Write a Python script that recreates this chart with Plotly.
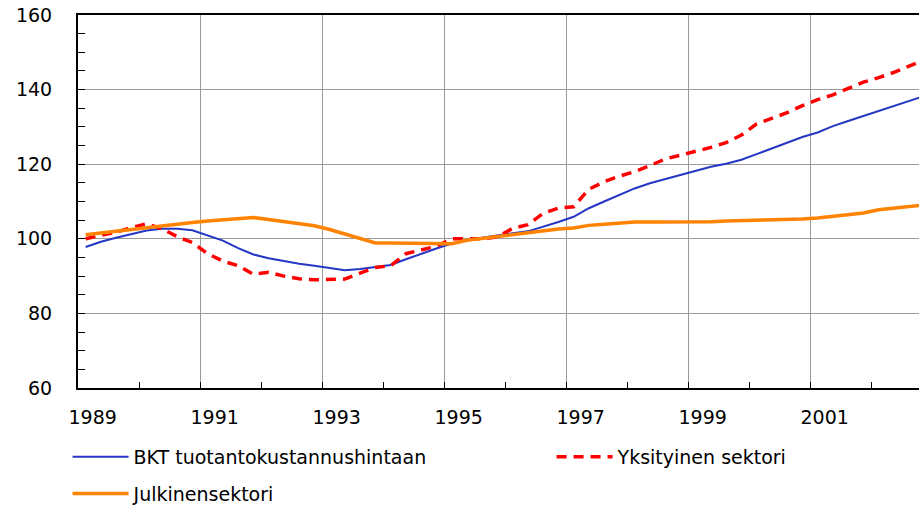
import plotly.graph_objects as go

years = list(range(1989, 2003))
quarters = [1, 2, 3, 4]

bkt = [97.8, 99.2, 100.3, 101.3,
       102.2, 102.7, 102.7, 102.3,
       101.0, 99.5, 97.5, 95.8,
       94.8, 94.0, 93.3, 92.8,
       92.2, 91.6, 91.9, 92.4,
       93.0, 94.5, 96.0, 97.4,
       98.7, 99.7, 100.3, 101.0,
       101.5, 102.0, 103.2, 104.5,
       105.9, 108.2, 110.0, 111.8,
       113.5, 114.9, 116.0, 117.0,
       118.3, 119.3, 120.1, 121.2,
       122.7, 124.3, 125.9, 127.3,
       128.5, 130.2, 131.6, 132.9,
       134.3, 135.6, 137.0, 138.3]

yksityinen = [100.0, 100.9, 101.8, 103.0,
              104.0, 102.7, 100.6, 99.0,
              96.0, 94.0, 92.8, 90.5,
              91.0, 90.0, 89.3, 89.0,
              89.0, 89.2, 90.8, 92.3,
              92.8, 96.0, 97.0, 98.0,
              100.0, 100.0, 100.0, 100.5,
              102.8, 103.8, 106.8, 108.2,
              108.6, 113.3, 115.3, 116.8,
              118.0, 119.6, 121.4, 122.4,
              123.4, 124.5, 125.8, 127.8,
              130.8, 132.2, 133.8, 135.7,
              137.3, 138.6, 140.2, 142.0,
              143.2, 144.6, 146.3, 148.0]

julkinen = [101.1, 101.6, 102.1, 102.6,
            103.1, 103.5, 104.0, 104.4,
            104.8, 105.1, 105.5, 105.7,
            105.2, 104.7, 104.0, 103.5,
            102.5, 101.3, 100.1, 98.9,
            98.9, 98.9, 98.9, 98.9,
            98.7, 99.6, 100.1, 100.7,
            101.1, 101.7, 102.3, 102.6,
            102.9, 103.6, 103.9, 104.2,
            104.5, 104.5, 104.5, 104.5,
            104.5, 104.6, 104.8, 104.9,
            105.0, 105.0, 105.0, 105.3,
            105.6, 106.0, 106.4, 106.9,
            107.8, 108.2, 108.7, 109.1]

names = ["BKT tuotantokustannushintaan", "Yksityinen sektori", "Julkinensektori"]
tick_years = [1989, 1991, 1993, 1995, 1997, 1999, 2001]

# quarterly positions (mid-quarter) on a continuous time axis
t = [y + (q - 0.5) / 4 for y in years for q in quarters]

FONT = "DejaVu Sans"
FS = 19
fig = go.Figure()
fig.add_trace(go.Scatter(x=t, y=bkt, mode="lines", name=names[0],
                         line=dict(color="#2536c4", width=2),
                         legend="legend", legendgroup="a"))
fig.add_trace(go.Scatter(x=t, y=yksityinen, mode="lines", name=names[1],
                         line=dict(color="#ff0000", width=3.5, dash="10px,7px"),
                         legend="legend2"))
fig.add_trace(go.Scatter(x=t, y=julkinen, mode="lines", name=names[2],
                         line=dict(color="#ff8200", width=3.5),
                         legend="legend", legendgroup="b"))

xr = [1989, 1989 + (919 - 78) / 61.0]
fig.update_layout(
    width=919, height=505,
    margin=dict(l=78, r=0, t=15, b=117, autoexpand=False),
    paper_bgcolor="white", plot_bgcolor="white",
    font=dict(family=FONT, size=FS, color="black"),
    showlegend=True,
    xaxis=dict(range=xr, tickvals=tick_years, showticklabels=False,
               showgrid=True, gridcolor="#9a9a9a", gridwidth=1,
               ticks="inside", ticklen=6, tickcolor="black",
               minor=dict(tickvals=years, ticks="inside", ticklen=6,
                          tickcolor="black", showgrid=False),
               showline=True, linecolor="black", linewidth=2, mirror=True,
               zeroline=False, fixedrange=True, automargin=False),
    xaxis2=dict(range=xr, overlaying="x", anchor="y", side="bottom",
                tickvals=[y + 0.24 for y in tick_years],
                ticktext=[str(y) for y in tick_years],
                ticks="", showgrid=False, showline=False, zeroline=False,
                ticklabelstandoff=16, automargin=False,
                ticklabeloverflow="allow",
                tickfont=dict(family=FONT, size=FS)),
    yaxis=dict(range=[60, 160], tickvals=[60, 80, 100, 120, 140, 160],
               showgrid=True, gridcolor="#9a9a9a", gridwidth=1,
               ticks="inside", ticklen=7, tickcolor="black",
               minor=dict(dtick=5, ticks="inside", ticklen=7,
                          tickcolor="black", showgrid=False),
               showline=True, linecolor="black", linewidth=2,
               zeroline=False, ticklabelstandoff=20, automargin=False,
               ticklabeloverflow="allow",
               tickfont=dict(family=FONT, size=FS)),
    legend=dict(orientation="v", x=-0.0124, xanchor="left",
                y=-0.134, yanchor="top",
                tracegroupgap=9, itemwidth=56,
                bgcolor="rgba(0,0,0,0)", font=dict(family=FONT, size=FS)),
    legend2=dict(orientation="v", x=0.5631, xanchor="left",
                 y=-0.134, yanchor="top", itemwidth=56,
                 bgcolor="rgba(0,0,0,0)", font=dict(family=FONT, size=FS)),
)
# invisible helper trace so the label axis (xaxis2) is rendered
fig.add_trace(go.Scatter(x=[xr[0]], y=[None], xaxis="x2", showlegend=False,
                         hoverinfo="skip", mode="lines"))

# remove the browser's default 8px body margin so the figure fills the window
fig.write_html("out.html", config={"displayModeBar": False},
               post_script="document.body.style.margin='0';")
